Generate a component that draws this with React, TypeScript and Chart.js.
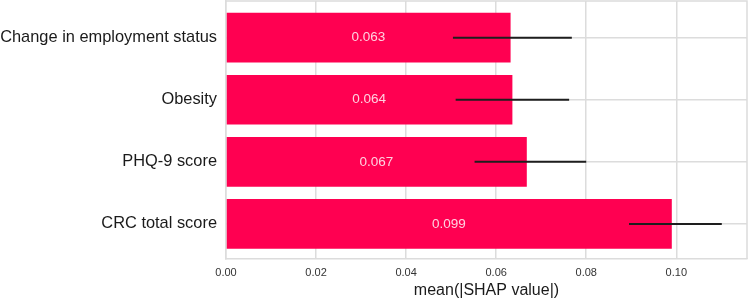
import React, { useEffect, useRef } from "react";
import { Chart, registerables } from "chart.js";

Chart.register(...registerables);

const categories = ["Change in employment status", "Obesity", "PHQ-9 score", "CRC total score"];
const meanShap = [0.0632, 0.0636, 0.0668, 0.099];
const valueLabels = ["0.063", "0.064", "0.067", "0.099"];
const errCenters = [0.0636, 0.0636, 0.0676, 0.0998];
const errHalf = [0.0132, 0.0126, 0.0124, 0.0103];
const xTicks = [0, 0.02, 0.04, 0.06, 0.08, 0.1];

const BAR_COLOR = "#ff0051";
const GRID_COLOR = "#dcdcdc";
const FONT = "'Liberation Sans', Arial, sans-serif";

export default function App() {
  const ref = useRef<HTMLCanvasElement | null>(null);

  useEffect(() => {
    const canvas = ref.current;
    if (!canvas) return;

    const overlay = {
      id: "overlay",
      beforeDatasetsDraw(chart: any) {
        const { ctx, chartArea } = chart;
        ctx.save();
        ctx.strokeStyle = GRID_COLOR;
        ctx.lineWidth = 1.5;
        ctx.beginPath();
        ctx.moveTo(chartArea.left, chartArea.top);
        ctx.lineTo(chartArea.right, chartArea.top);
        ctx.lineTo(chartArea.right, chartArea.bottom);
        ctx.stroke();
        ctx.restore();
      },
      afterDatasetsDraw(chart: any) {
        const { ctx } = chart;
        const xs = chart.scales.x;
        const ys = chart.scales.y;
        ctx.save();
        ctx.font = `13.5px ${FONT}`;
        ctx.fillStyle = "rgba(255,255,255,0.82)";
        ctx.textAlign = "center";
        ctx.textBaseline = "middle";
        meanShap.forEach((v, i) => {
          const cx = (xs.getPixelForValue(0) + xs.getPixelForValue(v)) / 2;
          const cy = ys.getPixelForValue(i);
          ctx.fillText(valueLabels[i], cx, cy);
        });
        ctx.strokeStyle = "#1e1e1e";
        ctx.lineWidth = 2;
        errCenters.forEach((c, i) => {
          const y = ys.getPixelForValue(i);
          ctx.beginPath();
          ctx.moveTo(xs.getPixelForValue(c - errHalf[i]), y);
          ctx.lineTo(xs.getPixelForValue(c + errHalf[i]), y);
          ctx.stroke();
        });
        ctx.restore();
      },
    };

    const chart = new Chart(canvas, {
      type: "bar",
      data: {
        datasets: [
          {
            data: meanShap.map((v, i) => ({ x: v, y: i })),
            backgroundColor: BAR_COLOR,
            borderWidth: 0,
            barPercentage: 0.8,
            categoryPercentage: 1,
          },
        ],
      },
      options: {
        indexAxis: "y",
        animation: false,
        responsive: false,
        maintainAspectRatio: false,
        layout: { padding: { top: 1, right: 2, left: 0, bottom: 0 } },
        plugins: { legend: { display: false }, tooltip: { enabled: false } },
        scales: {
          x: {
            type: "linear",
            min: 0,
            max: 0.1157,
            afterBuildTicks(scale: any) {
              scale.ticks = xTicks.map((v) => ({ value: v }));
            },
            afterFit(scale: any) {
              scale.height = 41;
              scale.paddingRight = 0;
            },
            grid: { color: GRID_COLOR, lineWidth: 1.5, drawTicks: false },
            border: { color: GRID_COLOR, width: 1.5 },
            ticks: {
              padding: 7,
              color: "#333333",
              font: { family: FONT, size: 11 },
              callback: (v: any) => Number(v).toFixed(2),
              maxRotation: 0,
            },
            title: {
              display: true,
              text: "mean(|SHAP value|)",
              color: "#1a1a1a",
              font: { family: FONT, size: 16 },
              padding: { top: 0, bottom: 0 },
            },
          },
          y: {
            type: "linear",
            reverse: true,
            offset: false,
            min: -0.59,
            max: 3.565,
            afterBuildTicks(scale: any) {
              scale.ticks = categories.map((_, i) => ({ value: i }));
            },
            afterFit(scale: any) {
              scale.width = 226;
              scale.paddingTop = 0;
              scale.paddingBottom = 0;
            },
            grid: { color: GRID_COLOR, lineWidth: 1.5, drawTicks: false, offset: false },
            border: { color: GRID_COLOR, width: 1.5 },
            ticks: {
              padding: 9,
              color: "#1a1a1a",
              font: { family: FONT, size: 16.4 },
              callback: (v: any) => categories[Math.round(Number(v))] ?? "",
            },
          },
        },
      },
      plugins: [overlay],
    });

    return () => chart.destroy();
  }, []);

  return (
    <div style={{ position: "fixed", left: 0, top: 0, width: 749, height: 300, background: "#fff" }}>
      <canvas ref={ref} width={749} height={300} style={{ width: 749, height: 300, display: "block" }} />
    </div>
  );
}
